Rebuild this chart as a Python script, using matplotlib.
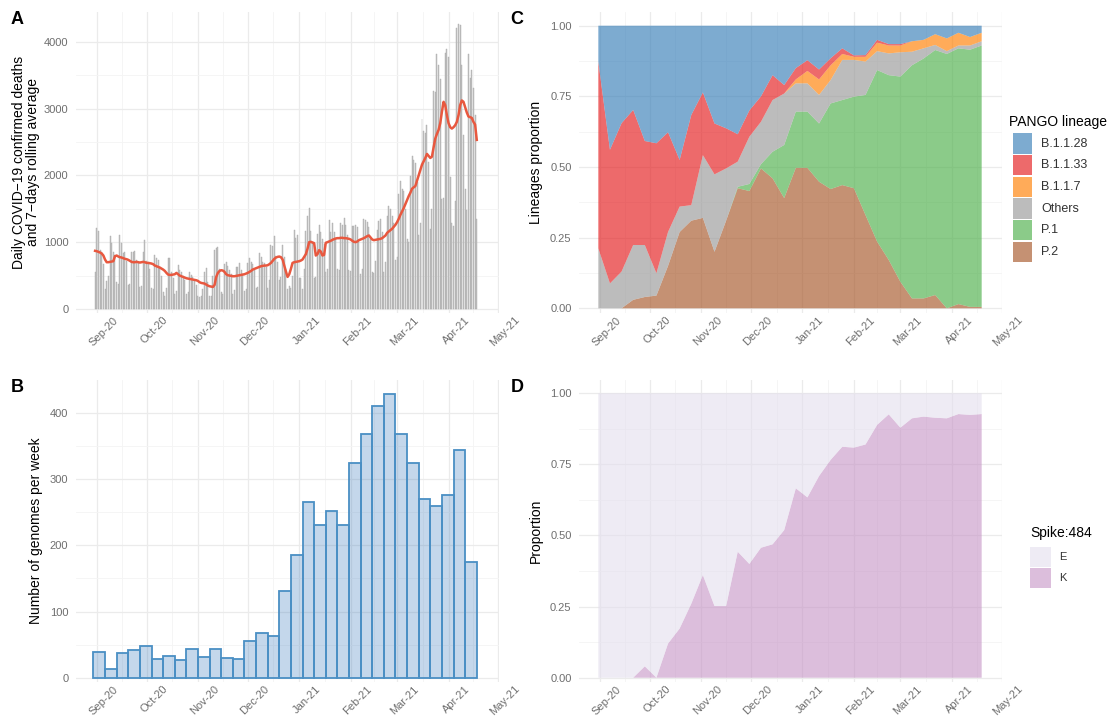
import numpy as np
import pandas as pd
import matplotlib
matplotlib.use('Agg')
import matplotlib.pyplot as plt
import matplotlib.dates as mdates
from matplotlib.patches import Rectangle
from matplotlib.transforms import blended_transform_factory, offset_copy

plt.rcParams['font.family'] = ['Liberation Sans', 'DejaVu Sans']

# ---------------- data ----------------
# A: daily deaths, weeks Mon..Sun starting 2020-08-31
deaths_start = '2020-08-31'
daily_deaths = [
    550, 1210, 1160, 885, 850, 680, 300,
    420, 500, 1085, 985, 850, 815, 410,
    380, 1110, 985, 840, 860, 720, 360,
    380, 860, 860, 870, 730, 690, 330,
    340, 860, 1035, 720, 690, 600, 320,
    300, 810, 760, 730, 620, 490, 250,
    200, 310, 760, 760, 550, 460, 230,
    270, 660, 580, 560, 500, 430, 230,
    250, 560, 510, 480, 430, 360, 190,
    180, 200, 300, 550, 610, 400, 190,
    200, 500, 880, 910, 925, 600, 250,
    220, 680, 700, 650, 590, 520, 230,
    280, 630, 635, 685, 590, 520, 270,
    300, 690, 760, 700, 670, 590, 310,
    330, 835, 785, 700, 690, 630, 320,
    435, 960, 940, 1085, 800, 700, 430,
    485, 960, 780, 600, 300, 350, 320,
    500, 1185, 1060, 1100, 470, 460, 300,
    600, 1170, 1385, 1510, 1160, 1000, 470,
    480, 1125, 1260, 1150, 1050, 970, 560,
    600, 1335, 1145, 1280, 1150, 1050, 600,
    580, 1285, 1250, 1360, 1250, 1100, 590,
    570, 1235, 1240, 1250, 1230, 1000, 520,
    600, 1345, 1330, 1300, 1230, 1050, 550,
    540, 720, 1185, 1310, 1340, 1150, 560,
    700, 1385, 1535, 1500, 1390, 1280, 740,
    780, 1720, 1910, 1800, 1760, 1500, 1050,
    1000, 1990, 2285, 2235, 2185, 1900, 1100,
    1285, 2840, 2660, 2635, 2760, 2200, 1200,
    1500, 3260, 3250, 3810, 3650, 3440, 1650,
    1660, 3835, 3885, 3770, 1980, 1280, 1240,
    1620, 4210, 4260, 4250, 3650, 2600, 1800,
    1480, 3810, 3460, 3570, 3300, 2900, 1340,
]
rolling_avg = [
    870, 865, 855, 845, 830, 800, 740,
    700, 700, 705, 710, 715, 790, 800,
    785, 775, 770, 760, 750, 745, 735,
    720, 705, 700, 700, 705, 700, 695,
    700, 705, 700, 690, 690, 685, 680,
    670, 650, 640, 630, 620, 605, 590,
    570, 540, 515, 510, 510, 515, 520,
    540, 520, 500, 490, 480, 470, 460,
    455, 450, 445, 440, 435, 430, 420,
    400, 390, 385, 380, 365, 350, 340,
    335, 330, 360, 480, 540, 570, 580,
    575, 555, 520, 505, 500, 495, 490,
    490, 495, 500, 505, 510, 515, 520,
    530, 540, 555, 570, 590, 600, 610,
    620, 630, 640, 645, 650, 650, 655,
    670, 690, 720, 750, 770, 780, 785,
    775, 740, 650, 560, 480, 520, 600,
    690, 700, 705, 710, 715, 725, 740,
    780, 820, 900, 1000, 1005, 995, 985,
    800, 820, 880, 860, 800, 810, 990,
    1000, 1010, 1020, 1035, 1045, 1055, 1060,
    1060, 1065, 1065, 1060, 1060, 1055, 1050,
    1040, 1020, 1005, 1000, 1010, 1030, 1040,
    1050, 1060, 1075, 1090, 1100, 1070, 1040,
    1030, 1035, 1040, 1045, 1050, 1060, 1080,
    1100, 1140, 1160, 1180, 1200, 1230, 1260,
    1300, 1350, 1410, 1460, 1510, 1570, 1630,
    1690, 1740, 1800, 1820, 1840, 1920, 2000,
    2080, 2160, 2210, 2260, 2320, 2290, 2260,
    2280, 2420, 2550, 2620, 2680, 2780, 2950,
    3100, 3050, 2900, 2780, 2720, 2700, 2720,
    2750, 2800, 2900, 3050, 3120, 3100, 3020,
    2940, 2880, 2870, 2860, 2800, 2760, 2530,
]

# B: genomes per epi week (Sun..Sat) starting 2020-08-30
genomes_start = '2020-08-30'
genomes_per_week = [39, 13, 38, 42, 48, 29, 33, 26, 43, 32, 44, 30, 29, 56, 67, 63,
                    131, 185, 265, 231, 252, 231, 325, 369, 410, 429, 369, 324,
                    270, 260, 276, 344, 175]

# C: weekly lineage proportions, starting 2020-08-31
prop_start = '2020-08-31'
lineages = ['B.1.1.28', 'B.1.1.33', 'B.1.1.7', 'Others', 'P.1', 'P.2']
lineage_colors = ['#377EB8', '#E41A1C', '#FF7F00', '#999999', '#4DAF4A', '#A65628']
p_B1128 = [0.127, 0.439, 0.345, 0.298, 0.408, 0.416, 0.377, 0.475, 0.316, 0.236, 0.346, 0.363,
           0.384, 0.300, 0.250, 0.175, 0.210, 0.150, 0.122, 0.155, 0.115, 0.080, 0.105, 0.104,
           0.050, 0.065, 0.065, 0.055, 0.050, 0.030, 0.045, 0.025, 0.040, 0.025]
p_B1133 = [0.661, 0.473, 0.525, 0.478, 0.368, 0.460, 0.353, 0.165, 0.319, 0.222, 0.180, 0.142,
           0.097, 0.093, 0.090, 0.088, 0.030, 0.040, 0.038, 0.035, 0.025, 0.020, 0.005, 0.006,
           0.010, 0.005, 0.005, 0.0, 0.0, 0.0, 0.0, 0.0, 0.0, 0.0]
p_B117 = [0.0, 0.0, 0.0, 0.0, 0.0, 0.0, 0.0, 0.0, 0.0, 0.0, 0.0, 0.0,
          0.0, 0.0, 0.0, 0.0, 0.0, 0.014, 0.044, 0.055, 0.052, 0.021, 0.011, 0.017,
          0.030, 0.028, 0.024, 0.037, 0.030, 0.038, 0.045, 0.045, 0.030, 0.030]
p_others = [0.212, 0.088, 0.130, 0.194, 0.184, 0.079, 0.120, 0.090, 0.055, 0.222, 0.274, 0.185,
            0.089, 0.167, 0.150, 0.183, 0.182, 0.100, 0.100, 0.101, 0.083, 0.142, 0.130, 0.118,
            0.067, 0.077, 0.086, 0.048, 0.036, 0.018, 0.010, 0.010, 0.015, 0.015]
p_P1 = [0.0, 0.0, 0.0, 0.0, 0.0, 0.0, 0.0, 0.0, 0.0, 0.0, 0.0, 0.0,
        0.005, 0.025, 0.015, 0.094, 0.188, 0.199, 0.199, 0.206, 0.303, 0.301, 0.324, 0.425,
        0.607, 0.654, 0.726, 0.825, 0.849, 0.867, 0.900, 0.905, 0.910, 0.925]
p_P2 = [0.0, 0.0, 0.0, 0.030, 0.040, 0.045, 0.150, 0.270, 0.310, 0.320, 0.200, 0.310,
        0.425, 0.415, 0.495, 0.460, 0.390, 0.497, 0.497, 0.448, 0.422, 0.436, 0.425, 0.330,
        0.236, 0.171, 0.094, 0.035, 0.035, 0.047, 0.0, 0.015, 0.005, 0.005]

# D: Spike 484 proportion of K per week
spike_levels = ['E', 'K']
spike_colors = ['#E3DEED', '#C593C5']
p_K = [0.0, 0.0, 0.0, 0.0, 0.040, 0.0, 0.120, 0.173, 0.260, 0.361, 0.252, 0.252,
       0.443, 0.400, 0.457, 0.469, 0.519, 0.666, 0.634, 0.709, 0.766, 0.812, 0.809, 0.820,
       0.889, 0.926, 0.879, 0.912, 0.918, 0.914, 0.912, 0.927, 0.924, 0.927]

# ---------------- layout ----------------
W, H = 1111, 722
fig = plt.figure(figsize=(W / 100, H / 100), dpi=100)

def fx(x):
    return x / W

def fy(y):
    return 1 - y / H

axA = fig.add_axes([fx(76), fy(313), 423 / W, 301 / H])
axB = fig.add_axes([fx(76), fy(682), 423 / W, 302.5 / H])
axC = fig.add_axes([fx(579.25), fy(313), 423 / W, 301 / H])
axD = fig.add_axes([fx(579.25), fy(682), 423 / W, 302.5 / H])

month_starts = pd.date_range('2020-09-01', '2021-05-01', freq='MS')
mnum = mdates.date2num(month_starts)
mid_months = (mnum[:-1] + mnum[1:]) / 2
x_lo = mnum[0] - 12.5
x_hi = mnum[-1] + 0.4

tick_col = '#6e6e6e'


def style(ax, yticks, yminor, ylim, fmt):
    ax.set_xlim(x_lo, x_hi)
    ax.set_ylim(*ylim)
    ax.set_xticks(mnum)
    ax.set_xticks(mid_months, minor=True)
    ax.set_yticks(yticks)
    ax.set_yticks(yminor, minor=True)
    ax.set_yticklabels([fmt(v) for v in yticks])
    ax.set_xticklabels([])
    for s in ax.spines.values():
        s.set_visible(False)
    ax.tick_params(which='both', length=0)
    ax.tick_params(axis='y', labelsize=8, labelcolor=tick_col, pad=5.5)
    ax.grid(which='major', color='#EBEBEB', lw=0.9)
    ax.grid(which='minor', color='#F4F4F4', lw=0.6)
    ax.set_axisbelow(True)
    tr = offset_copy(blended_transform_factory(ax.transData, ax.transAxes),
                     fig=fig, x=16, y=-2, units='dots')
    for m, d in zip(mnum, month_starts):
        ax.text(m, 0, d.strftime('%b-%y'), transform=tr, rotation=45,
                ha='right', va='top', rotation_mode='anchor',
                fontsize=8, color=tick_col)


# ---- A ----
ddates = pd.date_range(deaths_start, periods=len(daily_deaths), freq='D')
axA.bar(ddates, daily_deaths, width=0.6, facecolor='#c2c2c2', edgecolor='#ababab',
        linewidth=0.3)
axA.plot(ddates, rolling_avg, color='#E8583F', lw=1.8)
style(axA, [0, 1000, 2000, 3000, 4000], [500, 1500, 2500, 3500], (-60, 4444),
      lambda v: '%d' % v)
axA.set_ylabel('Daily COVID\u221219 confirmed deaths\nand 7\u2212days rolling average',
               fontsize=10, linespacing=1.0)
axA.yaxis.set_label_coords((40 - 76) / 423, 0.5)

# ---- B ----
gdates = pd.date_range(genomes_start, periods=len(genomes_per_week), freq='7D') + pd.Timedelta(hours=84)
axB.bar(gdates, genomes_per_week, width=7, facecolor=(0.24, 0.49, 0.74, 0.3),
        edgecolor='#4A8FC4', linewidth=1.3)
style(axB, [0, 100, 200, 300, 400], [50, 150, 250, 350], (-6.5, 450.6),
      lambda v: '%d' % v)
axB.set_ylabel('Number of genomes per week', fontsize=10)
axB.yaxis.set_label_coords((43 - 76) / 423, 0.5)

# ---- C ----
pdates = pd.date_range(prop_start, periods=len(p_P2), freq='7D')
series = {'B.1.1.28': p_B1128, 'B.1.1.33': p_B1133, 'B.1.1.7': p_B117,
          'Others': p_others, 'P.1': p_P1, 'P.2': p_P2}
order = lineages[::-1]
axC.stackplot(pdates, *[series[k] for k in order],
              colors=[lineage_colors[lineages.index(k)] for k in order],
              alpha=0.65, linewidth=0)
style(axC, [0, 0.25, 0.5, 0.75, 1.0], [0.125, 0.375, 0.625, 0.875], (-0.0166, 1.0485),
      lambda v: '%.2f' % v)
axC.set_ylabel('Lineages proportion', fontsize=10)
axC.yaxis.set_label_coords((543 - 579.25) / 423, 0.5)

# ---- D ----
p_E = [1 - k for k in p_K]
axD.stackplot(pdates, p_K, p_E, colors=[spike_colors[1], spike_colors[0]],
              alpha=0.6, linewidth=0)
style(axD, [0, 0.25, 0.5, 0.75, 1.0], [0.125, 0.375, 0.625, 0.875], (-0.0151, 1.0485),
      lambda v: '%.2f' % v)
axD.set_ylabel('Proportion', fontsize=10)
axD.yaxis.set_label_coords((543 - 579.25) / 423, 0.5)

# ---- legends ----
fig.text(fx(1009), fy(121.7), 'PANGO lineage', fontsize=10, va='center', ha='left')
for k, (name, col) in enumerate(zip(lineages, lineage_colors)):
    y0 = 133.3 + 21.67 * k
    fig.add_artist(Rectangle((fx(1013), fy(y0 + 20.5)), 19 / W, 20.5 / H,
                             transform=fig.transFigure, facecolor=col, alpha=0.65,
                             edgecolor='none'))
    fig.text(fx(1041), fy(y0 + 10.5), name, fontsize=9, va='center', ha='left',
             color='#333333')

fig.text(fx(1030.4), fy(533), 'Spike:484', fontsize=10, va='center', ha='left')
for k, (name, col) in enumerate(zip(spike_levels, spike_colors)):
    y0 = 547 + 20.8 * k
    fig.add_artist(Rectangle((fx(1030), fy(y0 + 19.8)), 21 / W, 19.8 / H,
                             transform=fig.transFigure, facecolor=col, alpha=0.6,
                             edgecolor='none'))
    fig.text(fx(1059), fy(y0 + 10), name, fontsize=8, va='center', ha='left',
             color='#333333')

# ---- panel letters ----
for lab, (x, y) in zip('ABCD', [(17, 20), (17, 387), (517, 20), (517, 387)]):
    fig.text(fx(x), fy(y), lab, fontsize=13, fontweight='bold', ha='center', va='center')

fig.savefig('out.png', dpi=100)
